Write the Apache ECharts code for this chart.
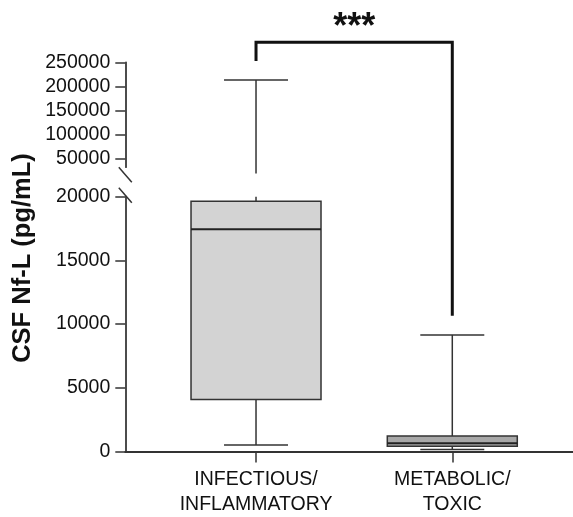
<!DOCTYPE html>
<html><head><meta charset="utf-8">
<script src="https://cdn.jsdelivr.net/npm/echarts@6/dist/echarts.min.js"></script>
<style>html,body{margin:0;padding:0;background:#fff}#c{width:573px;height:517px}</style>
</head><body><div id="c"></div>
<script>
const categories = ['INFECTIOUS/\nINFLAMMATORY', 'METABOLIC/\nTOXIC'];
const whiskerLow = [520, 155];
const q1 = [4075, 420];
const median = [17450, 650];
const q3 = [19650, 1220];
const whiskerHigh = [213400, 9150];
const lowerTicks = [0, 5000, 10000, 15000, 20000];
const upperTicks = [50000, 100000, 150000, 200000, 250000];
const sigText = '***';
const sigLeftEnd = 252700;   // upper segment value
const sigRightEnd = 10660;   // lower segment value

const LOWER_MAX = 20000, UPPER_MIN = 33000, UPPER_MAX = 250000, BREAK_LOW = 20000;
const FONT = '"Liberation Sans", Arial, sans-serif';
const boxFills = ['#d3d3d3', '#a8a8a8'];
const BOX_W = 0.6623, CAP_W = 0.326;

const rows = categories.map((c, i) => [i + 1, whiskerLow[i], q1[i], median[i], q3[i], whiskerHigh[i]]);

function lineEl(a, b, w, color) {
  return { type: 'line', shape: { x1: a[0], y1: a[1], x2: b[0], y2: b[1] }, style: { stroke: color || '#333', lineWidth: w } };
}

function renderLower(params, api) {
  const x = api.value(0), lo = api.value(1), a = api.value(2), m = api.value(3), b = api.value(4), hi = api.value(5);
  const children = [];
  const hiC = Math.min(hi, LOWER_MAX);
  children.push(lineEl(api.coord([x, lo]), api.coord([x, a]), 1.5));
  children.push(lineEl(api.coord([x, b]), api.coord([x, hiC]), 1.5));
  children.push(lineEl(api.coord([x - CAP_W / 2, lo]), api.coord([x + CAP_W / 2, lo]), 1.5));
  if (hi <= LOWER_MAX) children.push(lineEl(api.coord([x - CAP_W / 2, hi]), api.coord([x + CAP_W / 2, hi]), 1.5));
  const p1 = api.coord([x - BOX_W / 2, b]), p2 = api.coord([x + BOX_W / 2, a]);
  children.push({ type: 'rect', shape: { x: p1[0], y: p1[1], width: p2[0] - p1[0], height: p2[1] - p1[1] },
    style: { fill: boxFills[params.dataIndex], stroke: '#333', lineWidth: 1.5 } });
  children.push(lineEl(api.coord([x - BOX_W / 2, m]), api.coord([x + BOX_W / 2, m]), 2, '#222'));
  return { type: 'group', children };
}

function renderUpper(params, api) {
  const x = api.value(0), hi = api.value(5);
  if (hi <= BREAK_LOW) return null;
  return { type: 'group', children: [
    lineEl(api.coord([x, hi]), api.coord([x, BREAK_LOW]), 1.5),
    lineEl(api.coord([x - CAP_W / 2, hi]), api.coord([x + CAP_W / 2, hi]), 1.5)
  ]};
}

const XMIN = 0.334, XMAX = 2.615;
const labelStyle = { color: '#111', fontSize: 19.5, fontFamily: FONT };

const chart = echarts.init(document.getElementById('c'), null, { renderer: 'canvas' });
chart.setOption({
  animation: false,
  backgroundColor: '#fff',
  grid: [
    { left: 125.3, right: 0, top: 196.7, bottom: 63.3 },
    { left: 125.3, right: 0, top: 62.3, height: 104.9 },
    { left: 125.3, right: 0, top: 62.3, bottom: 63.3 }
  ],
  xAxis: [
    { type: 'value', gridIndex: 0, min: XMIN, max: XMAX,
      axisLine: { show: true, lineStyle: { color: '#333', width: 2 } },
      axisTick: { show: true, customValues: [1, 2], length: 11, lineStyle: { color: '#333', width: 1.5 } },
      axisLabel: { show: true, customValues: [1, 2], margin: 15.5, lineHeight: 25, ...labelStyle,
        formatter: v => categories[Math.round(v) - 1] || '' },
      splitLine: { show: false } },
    { type: 'value', gridIndex: 1, min: XMIN, max: XMAX, show: false },
    { type: 'value', gridIndex: 2, min: XMIN, max: XMAX, show: false }
  ],
  yAxis: [
    { type: 'value', gridIndex: 0, min: 0, max: LOWER_MAX, interval: 5000,
      axisLine: { show: true, lineStyle: { color: '#333', width: 1.75 } },
      axisTick: { show: true, length: 10, customValues: lowerTicks, lineStyle: { color: '#333', width: 1.5 } },
      axisLabel: { margin: 15, customValues: lowerTicks, ...labelStyle, formatter: v => String(v) },
      splitLine: { show: false } },
    { type: 'value', gridIndex: 1, min: UPPER_MIN, max: UPPER_MAX,
      axisLine: { show: true, lineStyle: { color: '#333', width: 1.75 } },
      axisTick: { show: true, length: 10, customValues: upperTicks, lineStyle: { color: '#333', width: 1.5 } },
      axisLabel: { margin: 15, customValues: upperTicks, ...labelStyle, formatter: v => String(v) },
      splitLine: { show: false } },
    { type: 'value', gridIndex: 2, min: 0, max: 1,
      axisLine: { show: false }, axisTick: { show: false }, axisLabel: { show: false }, splitLine: { show: false },
      name: 'CSF Nf-L (pg/mL)', nameLocation: 'middle', nameGap: 89,
      nameTextStyle: { color: '#111', fontSize: 25.5, fontWeight: 'bold', fontFamily: FONT } }
  ],
  series: [
    { type: 'custom', xAxisIndex: 0, yAxisIndex: 0, data: rows, renderItem: renderLower, clip: false,
      encode: { x: 0, y: [1, 2, 3, 4, 5] } },
    { type: 'custom', xAxisIndex: 1, yAxisIndex: 1, data: rows, renderItem: renderUpper, clip: false,
      encode: { x: 0, y: [5] } }
  ]
});

const axX = chart.convertToPixel({ xAxisIndex: 0 }, XMIN);
const upBottom = chart.convertToPixel({ yAxisIndex: 1 }, UPPER_MIN);
const lowTop = chart.convertToPixel({ yAxisIndex: 0 }, LOWER_MAX);
const upTop = chart.convertToPixel({ yAxisIndex: 1 }, UPPER_MAX);
const xL = chart.convertToPixel({ xAxisIndex: 0 }, 1);
const xR = chart.convertToPixel({ xAxisIndex: 0 }, 2);
const yLeftEnd = chart.convertToPixel({ yAxisIndex: 1 }, sigLeftEnd);
const yRightEnd = chart.convertToPixel({ yAxisIndex: 0 }, sigRightEnd);
const yTop = upTop - 20;
chart.setOption({
  graphic: [
    { type: 'line', shape: { x1: axX - 6.5, y1: upBottom, x2: axX + 6.5, y2: upBottom + 15 }, style: { stroke: '#333', lineWidth: 1.5 } },
    { type: 'line', shape: { x1: axX - 6.5, y1: lowTop - 9, x2: axX + 6.5, y2: lowTop + 6 }, style: { stroke: '#333', lineWidth: 1.5 } },
    { type: 'polyline', shape: { points: [[xL, yLeftEnd], [xL, yTop], [xR, yTop], [xR, yRightEnd]] },
      style: { stroke: '#111', lineWidth: 3, fill: null } },
    { type: 'text', x: (xL + xR) / 2, y: yTop + 3.5,
      style: { text: sigText, fill: '#111', font: 'bold 36px ' + FONT, textAlign: 'center', textVerticalAlign: 'bottom' } }
  ]
});
</script></body></html>
